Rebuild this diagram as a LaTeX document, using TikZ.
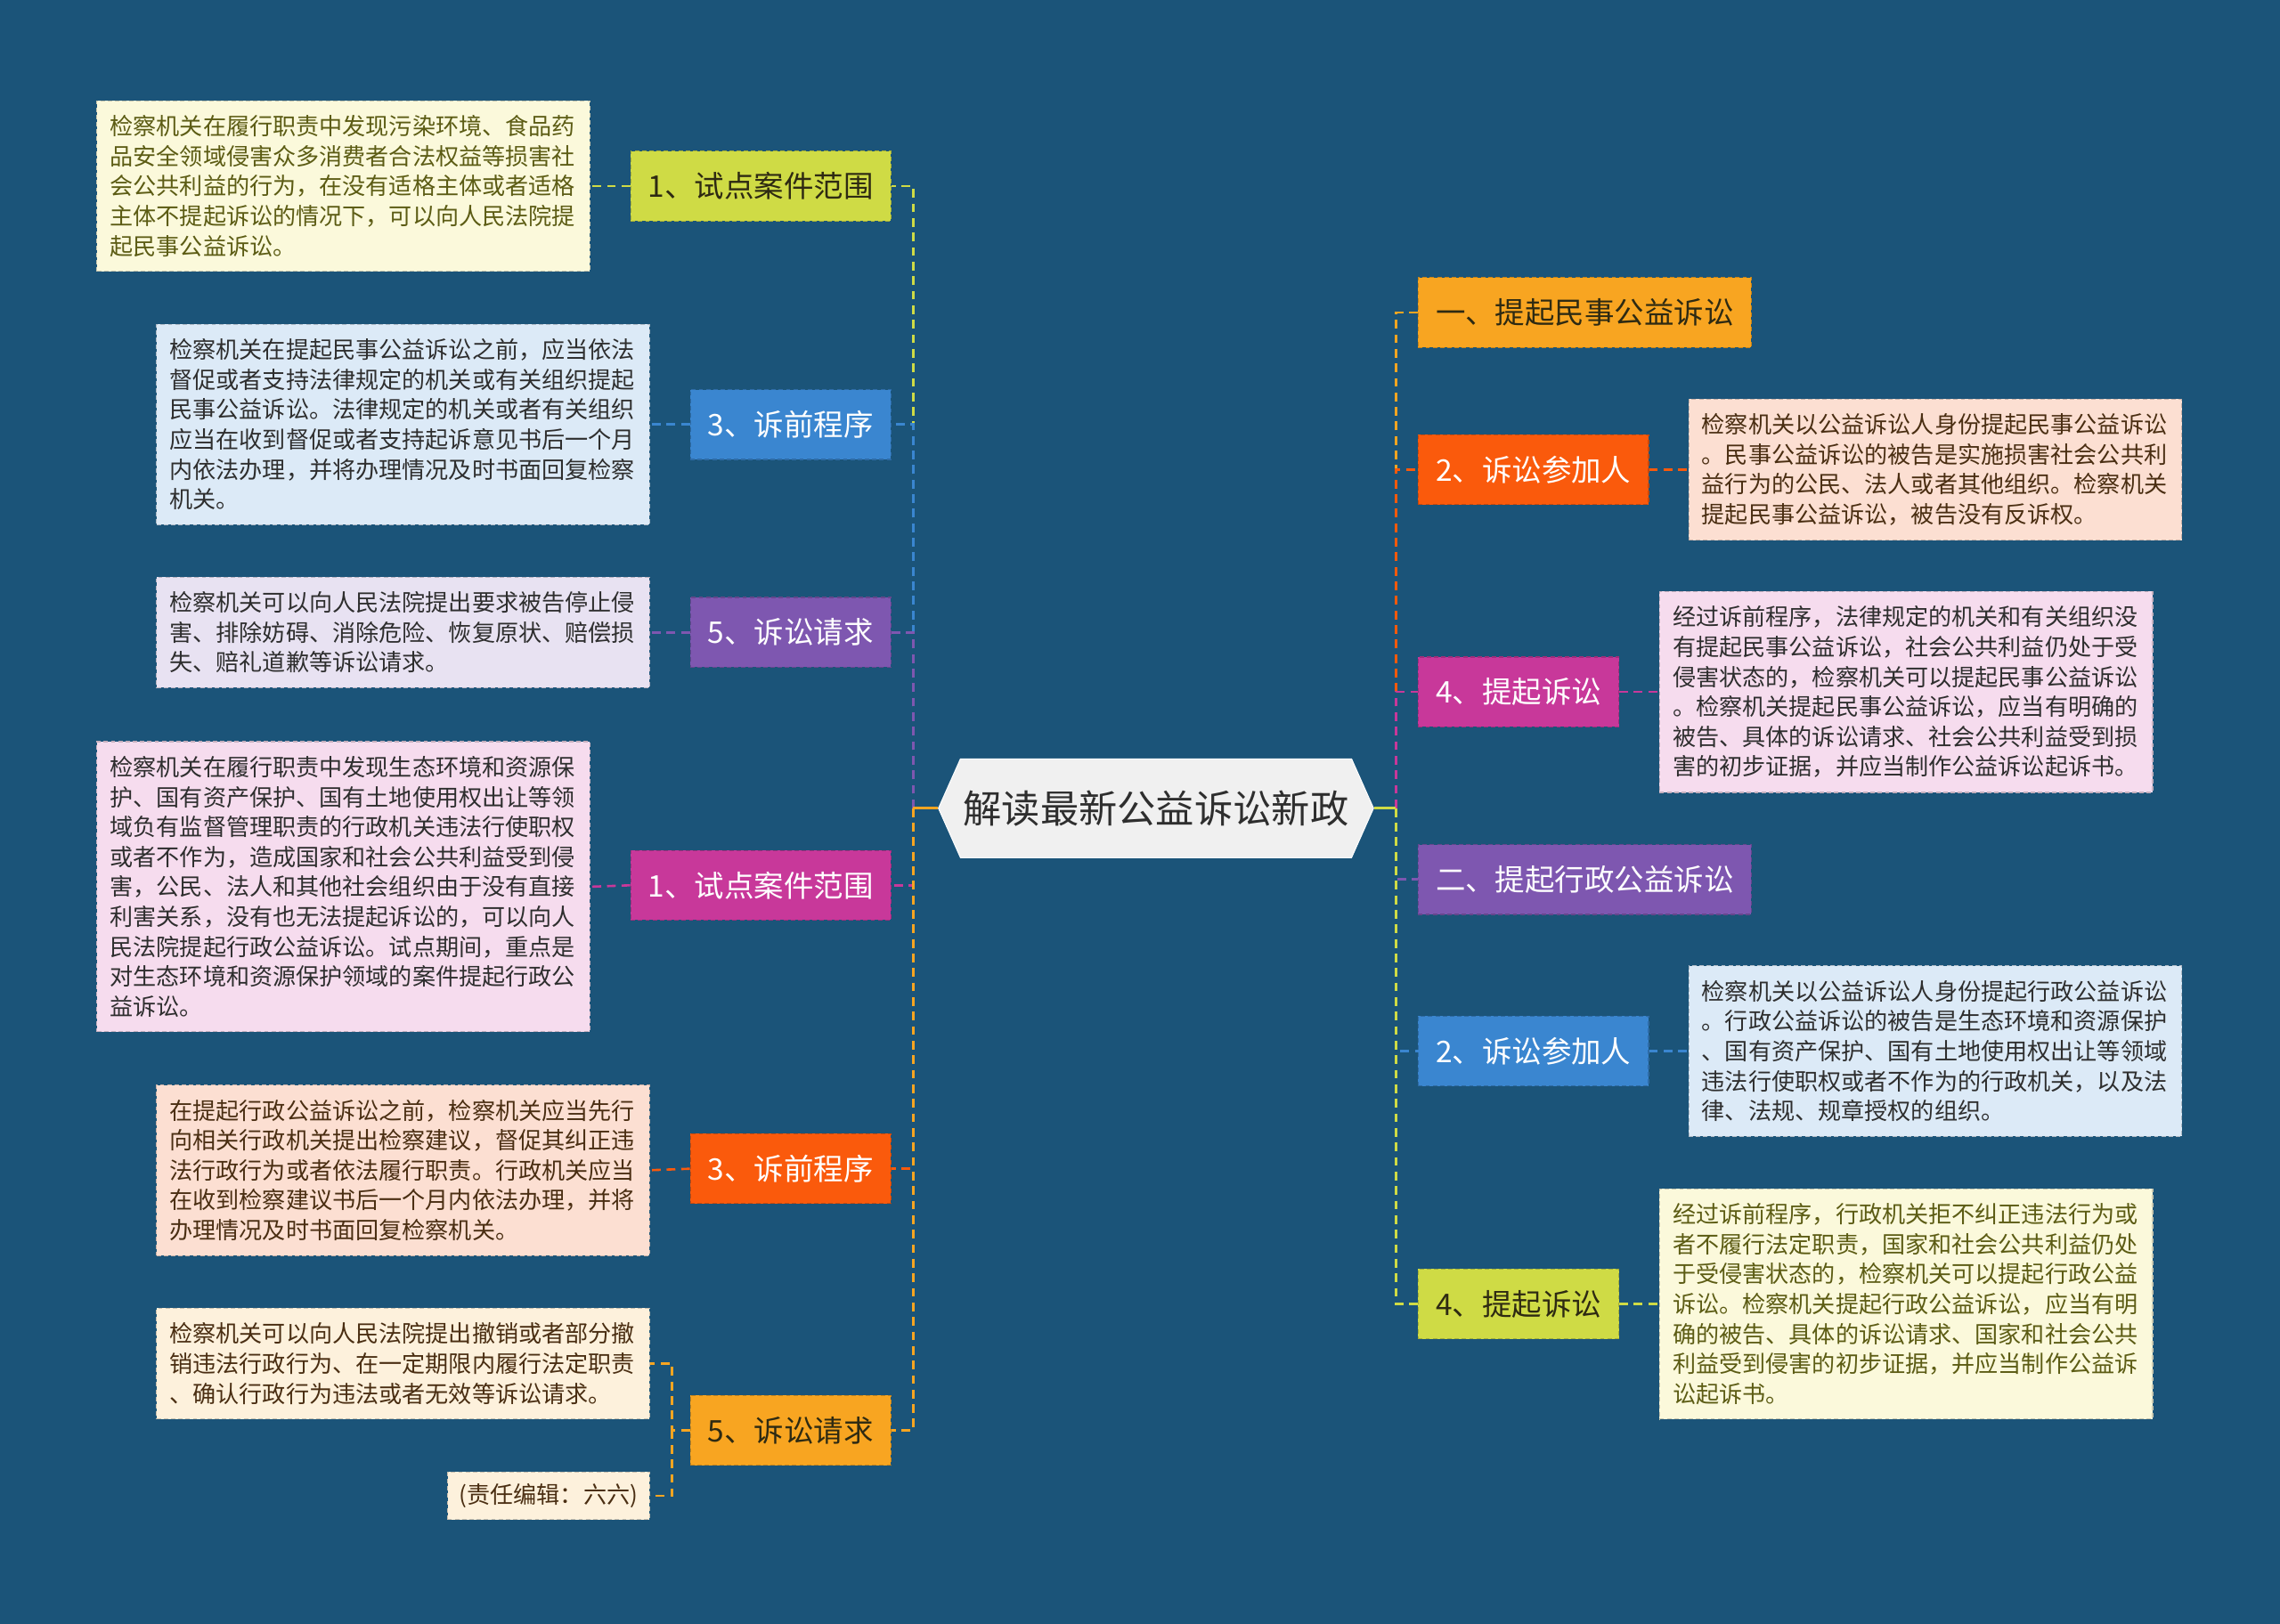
\documentclass[tikz,border=0pt]{standalone}
\usepackage{fontspec}
\setmainfont{Noto Sans CJK SC}
\usepackage{xcolor}
\usepackage{tikz}
\usetikzlibrary{shapes.symbols,positioning}

\definecolor{bgblue}{HTML}{1B5479}
\definecolor{rootfill}{HTML}{F0F0F0}
\definecolor{cYG}{HTML}{CFDB45}
\definecolor{cBlue}{HTML}{3A86D0}
\definecolor{cPurple}{HTML}{7E57B0}
\definecolor{cMag}{HTML}{C8389A}
\definecolor{cRed}{HTML}{FA5A0C}
\definecolor{cOrg}{HTML}{F8A521}
\definecolor{dYG}{HTML}{FBF9DB}
\definecolor{dBlue}{HTML}{DCEAF7}
\definecolor{dPurple}{HTML}{E8E2F2}
\definecolor{dMag}{HTML}{F6DCEE}
\definecolor{dRed}{HTML}{FCDFD2}
\definecolor{dOrg}{HTML}{FDF1DC}
\definecolor{tYG}{HTML}{5C5C14}
\definecolor{tDark}{HTML}{2E2E2E}
\definecolor{tBrown}{HTML}{4A2E12}
\definecolor{tCat}{HTML}{2E2A12}

\newcommand{\descfont}{\fontsize{16}{20.6}\selectfont}
\newcommand{\catfont}{\fontsize{20.5}{24}\selectfont}
\newcommand{\rootfont}{\fontsize{26.5}{30}\selectfont}

\begin{document}
\begin{tikzpicture}[x=1pt,y=-1pt,
  root/.style={shape=signal,signal to=west and east,signal pointer angle=132,
    fill=rootfill,draw=white,line width=0.6pt,minimum height=68pt,inner xsep=2pt,
    text=tDark,font=\rootfont},
  catbox/.style={fill=#1,draw=#1!80!black,dash pattern=on 3pt off 2pt,line width=0.7pt,
    minimum height=48pt,inner xsep=12pt,font=\catfont},
  descbox/.style={fill=#1,draw=#1!80!black,dash pattern=on 3pt off 2pt,line width=0.7pt,
    text width=321pt,inner xsep=9pt,inner ysep=10pt,align=left,font=\descfont},
  link/.style={line width=1.6pt,dash pattern=on 6pt off 4pt}]
  % background
  \fill[bgblue] (0,0) rectangle (1568,1117);
  \node[root] (root) at (795,556) {解读最新公益诉讼新政};
  \coordinate (trunkL) at (628,556);
  \coordinate (trunkR) at (960,556);
  % left branches
  \node[catbox=cYG,text=tCat,anchor=east] (lA1) at (613,128) {1、试点案件范围};
  \node[catbox=cBlue,text=white,anchor=east] (lA3) at (613,292) {3、诉前程序};
  \node[catbox=cPurple,text=white,anchor=east] (lA5) at (613,435) {5、诉讼请求};
  \node[catbox=cMag,text=white,anchor=east] (lB1) at (613,609) {1、试点案件范围};
  \node[catbox=cRed,text=white,anchor=east] (lB3) at (613,804) {3、诉前程序};
  \node[catbox=cOrg,text=tCat,anchor=east] (lB5) at (613,984) {5、诉讼请求};
  % left texts
  \node[descbox=dYG,text=tYG,anchor=east] (tA1) at (406,128) {检察机关在履行职责中发现污染环境、食品药\\品安全领域侵害众多消费者合法权益等损害社\\会公共利益的行为，在没有适格主体或者适格\\主体不提起诉讼的情况下，可以向人民法院提\\起民事公益诉讼。};
  \node[descbox=dBlue,text=tDark,anchor=east] (tA3) at (447,292) {检察机关在提起民事公益诉讼之前，应当依法\\督促或者支持法律规定的机关或有关组织提起\\民事公益诉讼。法律规定的机关或者有关组织\\应当在收到督促或者支持起诉意见书后一个月\\内依法办理，并将办理情况及时书面回复检察\\机关。};
  \node[descbox=dPurple,text=tDark,anchor=east] (tA5) at (447,435) {检察机关可以向人民法院提出要求被告停止侵\\害、排除妨碍、消除危险、恢复原状、赔偿损\\失、赔礼道歉等诉讼请求。};
  \node[descbox=dMag,text=tDark,anchor=east] (tB1) at (406,610) {检察机关在履行职责中发现生态环境和资源保\\护、国有资产保护、国有土地使用权出让等领\\域负有监督管理职责的行政机关违法行使职权\\或者不作为，造成国家和社会公共利益受到侵\\害，公民、法人和其他社会组织由于没有直接\\利害关系，没有也无法提起诉讼的，可以向人\\民法院提起行政公益诉讼。试点期间，重点是\\对生态环境和资源保护领域的案件提起行政公\\益诉讼。};
  \node[descbox=dRed,text=tBrown,anchor=east] (tB3) at (447,805) {在提起行政公益诉讼之前，检察机关应当先行\\向相关行政机关提出检察建议，督促其纠正违\\法行政行为或者依法履行职责。行政机关应当\\在收到检察建议书后一个月内依法办理，并将\\办理情况及时书面回复检察机关。};
  \node[descbox=dOrg,text=tBrown,anchor=east] (tB5) at (447,938) {检察机关可以向人民法院提出撤销或者部分撤\\销违法行政行为、在一定期限内履行法定职责\\、确认行政行为违法或者无效等诉讼请求。};
  \node[fill=dOrg,draw=dOrg!80!black,dash pattern=on 3pt off 2pt,line width=0.7pt,
    inner xsep=8pt,inner ysep=8pt,text=tBrown,font=\descfont,anchor=east] (editor) at (447,1029) {(责任编辑：六六)};
  % right branches
  \node[catbox=cOrg,text=tCat,anchor=west] (rA0) at (975,215) {一、提起民事公益诉讼};
  \node[catbox=cRed,text=white,anchor=west] (rA2) at (975,323) {2、诉讼参加人};
  \node[catbox=cMag,text=white,anchor=west] (rA4) at (975,476) {4、提起诉讼};
  \node[catbox=cPurple,text=white,anchor=west] (rB0) at (975,605) {二、提起行政公益诉讼};
  \node[catbox=cBlue,text=white,anchor=west] (rB2) at (975,723) {2、诉讼参加人};
  \node[catbox=cYG,text=tCat,anchor=west] (rB4) at (975,897) {4、提起诉讼};
  % right texts
  \node[descbox=dRed,text=tBrown,anchor=west] (sA2) at (1161,323) {检察机关以公益诉讼人身份提起民事公益诉讼\\。民事公益诉讼的被告是实施损害社会公共利\\益行为的公民、法人或者其他组织。检察机关\\提起民事公益诉讼，被告没有反诉权。};
  \node[descbox=dMag,text=tDark,anchor=west] (sA4) at (1141,476) {经过诉前程序，法律规定的机关和有关组织没\\有提起民事公益诉讼，社会公共利益仍处于受\\侵害状态的，检察机关可以提起民事公益诉讼\\。检察机关提起民事公益诉讼，应当有明确的\\被告、具体的诉讼请求、社会公共利益受到损\\害的初步证据，并应当制作公益诉讼起诉书。};
  \node[descbox=dBlue,text=tDark,anchor=west] (sB2) at (1161,723) {检察机关以公益诉讼人身份提起行政公益诉讼\\。行政公益诉讼的被告是生态环境和资源保护\\、国有资产保护、国有土地使用权出让等领域\\违法行使职权或者不作为的行政机关，以及法\\律、法规、规章授权的组织。};
  \node[descbox=dYG,text=tYG,anchor=west] (sB4) at (1141,897) {经过诉前程序，行政机关拒不纠正违法行为或\\者不履行法定职责，国家和社会公共利益仍处\\于受侵害状态的，检察机关可以提起行政公益\\诉讼。检察机关提起行政公益诉讼，应当有明\\确的被告、具体的诉讼请求、国家和社会公共\\利益受到侵害的初步证据，并应当制作公益诉\\讼起诉书。};
  % trunk links
  \draw[link,cYG] (trunkL) |- (lA1.east);
  \draw[link,cBlue] (trunkL) |- (lA3.east);
  \draw[link,cPurple] (trunkL) |- (lA5.east);
  \draw[link,cMag] (trunkL) |- (lB1.east);
  \draw[link,cRed] (trunkL) |- (lB3.east);
  \draw[link,cOrg] (trunkL) |- (lB5.east);
  \draw[line width=1.6pt,cOrg] (root.west) -- (trunkL);
  \draw[link,cOrg] (trunkR) |- (rA0.west);
  \draw[link,cRed] (trunkR) |- (rA2.west);
  \draw[link,cMag] (trunkR) |- (rA4.west);
  \draw[link,cPurple] (trunkR) |- (rB0.west);
  \draw[link,cBlue] (trunkR) |- (rB2.west);
  \draw[link,cYG] (trunkR) |- (rB4.west);
  \draw[line width=1.6pt,cYG] (root.east) -- (trunkR);
  % leaf links
  \draw[link,cYG] (lA1.west) -- (tA1.east);
  \draw[link,cBlue] (lA3.west) -- (tA3.east);
  \draw[link,cPurple] (lA5.west) -- (tA5.east);
  \draw[link,cMag] (lB1.west) -- (tB1.east);
  \draw[link,cRed] (lB3.west) -- (tB3.east);
  \coordinate (fork) at (462,984);
  \draw[link,cOrg] (lB5.west) -- (fork) |- (tB5.east);
  \draw[link,cOrg] (fork) |- (editor.east);
  \draw[link,cRed] (rA2.east) -- (sA2.west);
  \draw[link,cMag] (rA4.east) -- (sA4.west);
  \draw[link,cBlue] (rB2.east) -- (sB2.west);
  \draw[link,cYG] (rB4.east) -- (sB4.west);
\end{tikzpicture}
\end{document}
